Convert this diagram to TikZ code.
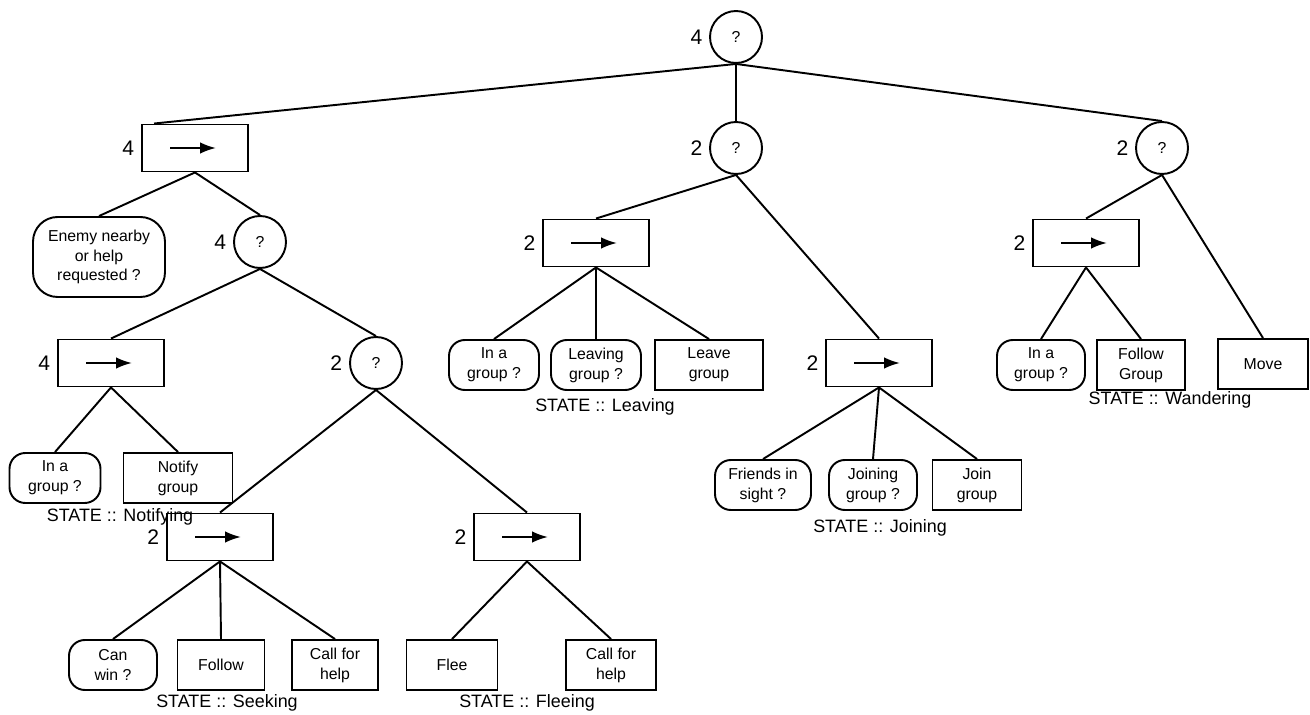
\documentclass[tikz,border=0pt]{standalone}
\usepackage{fontspec}
\setmainfont{Liberation Sans}
\usetikzlibrary{arrows.meta}
\newcommand\seqarr[1]{\draw[line width=1.2pt,-{Latex[length=9pt,width=6.5pt]}] ([xshift=-0.5cm]#1.center) -- ([xshift=0.42cm]#1.center);}
\begin{document}
\begin{tikzpicture}[x=0.02cm,y=-0.02cm, line width=1.1pt,
 every node/.style={font=\fontsize{9}{11.3}\selectfont, align=center},
 sel/.style={draw, circle, minimum size=1.04cm, inner sep=0pt},
 seq/.style={draw, minimum width=2.12cm, minimum height=0.94cm, inner sep=0pt},
 cond/.style={draw, rounded corners=9pt, minimum width=#1, minimum height=1cm, inner sep=0pt},
 act/.style={draw, minimum width=#1, minimum height=1cm, inner sep=0pt},
 num/.style={label={[font=\fontsize{12}{12}\selectfont]left:#1}},
 state/.style={font=\fontsize{10.2}{12}\selectfont, inner sep=0pt}]
\useasboundingbox (0,0) rectangle (1310,715);
% left branch
\node[sel, num=4] (root) at (736,37) {?};
\node[seq, num=4] (s1) at (195,148) {};
\node[cond=2.64cm, minimum height=1.6cm, rounded corners=14pt] (enemy) at (99,257) {Enemy nearby\\or help\\requested ?};
\node[sel, num=4] (f1) at (260,242) {?};
\node[seq, num=4] (s2) at (111,363) {};
\node[sel, num=2] (f2) at (376,363) {?};
\node[cond=1.82cm] (c1) at (55,478) {In a\\group ?};
\node[act=2.18cm] (a1) at (178,478) {Notify\\group};
\node[state] (t1) at (120,517) {STATE :: Notifying};
\node[seq, num=2] (s3) at (220,537) {};
\node[seq, num=2] (s4) at (527,537) {};
\node[cond=1.76cm] (c2) at (113,665) {Can\\win ?};
\node[act=1.74cm] (a2) at (221,665) {Follow};
\node[act=1.72cm] (a3) at (335,665) {Call for\\help};
\node[state] (t2) at (227,703) {STATE :: Seeking};
\node[act=1.82cm] (a4) at (452,665) {Flee};
\node[act=1.8cm] (a5) at (611,665) {Call for\\help};
\node[state] (t3) at (527,703) {STATE :: Fleeing};
% middle branch
\node[sel, num=2] (f3) at (736,148) {?};
\node[seq, num=2] (s5) at (596,243) {};
\node[cond=1.8cm] (c3) at (494,365) {In a\\group ?};
\node[cond=1.8cm] (c4) at (596,365) {Leaving\\group ?};
\node[act=2.16cm] (a6) at (709,365) {Leave\\group};
\node[state] (t4) at (605,407) {STATE :: Leaving};
\node[seq, num=2] (s6) at (879,363) {};
\node[cond=1.92cm] (c5) at (763,485) {Friends in\\sight ?};
\node[cond=1.76cm] (c6) at (873,485) {Joining\\group ?};
\node[act=1.78cm] (a7) at (977,485) {Join\\group};
\node[state] (t5) at (880,528) {STATE :: Joining};
% right branch
\node[sel, num=2] (f4) at (1162,148) {?};
\node[seq, num=2] (s7) at (1086,243) {};
\node[cond=1.76cm] (c7) at (1041,365) {In a\\group ?};
\node[act=1.76cm] (a8) at (1141,365) {Follow\\Group};
\node[act=1.8cm] (a9) at (1263,364) {Move};
\node[state] (t6) at (1170,400) {STATE :: Wandering};
% arrows in sequence boxes
\seqarr{s1}\seqarr{s2}\seqarr{s3}\seqarr{s4}\seqarr{s5}\seqarr{s6}\seqarr{s7}
% edges
\draw (root.south) -- ([xshift=0.26cm]s1.north west);
\draw (root.south) -- (f3.north);
\draw (root.south) -- (f4.north);
\draw (s1.south) -- (enemy.north);
\draw (s1.south) -- (f1.north);
\draw (f1.south) -- (s2.north);
\draw (f1.south) -- (f2.north);
\draw (s2.south) -- (c1.north);
\draw (s2.south) -- (a1.north);
\draw (f2.south) -- (s3.north);
\draw (f2.south) -- (s4.north);
\draw (s3.south) -- (c2.north);
\draw (s3.south) -- (a2.north);
\draw (s3.south) -- (a3.north);
\draw (s4.south) -- (a4.north);
\draw (s4.south) -- (a5.north);
\draw (f3.south) -- (s5.north);
\draw (f3.south) -- (s6.north);
\draw (s5.south) -- (c3.north);
\draw (s5.south) -- (c4.north);
\draw (s5.south) -- (a6.north);
\draw (s6.south) -- (c5.north);
\draw (s6.south) -- (c6.north);
\draw (s6.south) -- (a7.north);
\draw (f4.south) -- (s7.north);
\draw (f4.south) -- (a9.north);
\draw (s7.south) -- (c7.north);
\draw (s7.south) -- (a8.north);
\end{tikzpicture}
\end{document}
